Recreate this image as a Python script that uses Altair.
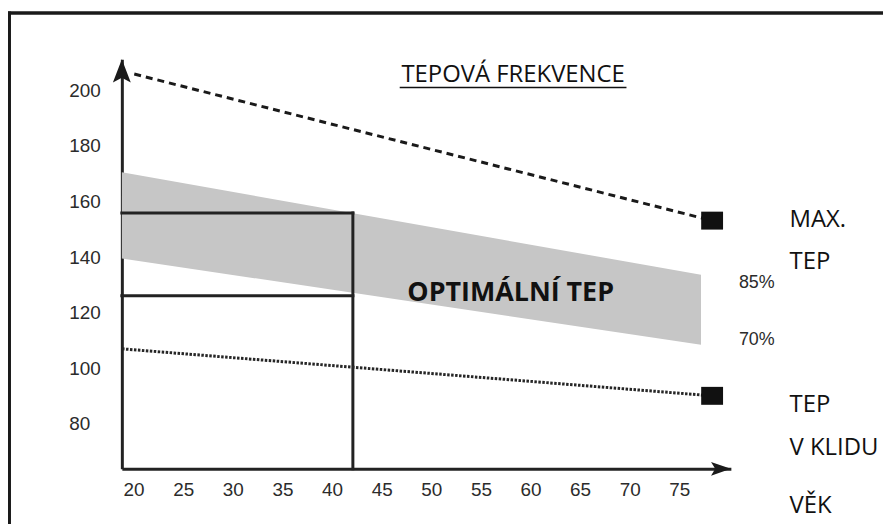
import altair as alt
import pandas as pd

# ---------------- data ----------------
# axis extent: age in years (x), heart rate in beats/min (y)
AGE_MIN, AGE_MAX = 18.82, 80.19
HR_MIN, HR_MAX = 63.85, 211.15
X_TICKS = [20, 25, 30, 35, 40, 45, 50, 55, 60, 65, 70, 75]
Y_TICKS = [80, 100, 120, 140, 160, 180, 200]

# optimal training-zone band: upper edge (85 %) and lower edge (70 %)
BAND_AGE = [18.82, 77.18]
BAND_85 = [170.5, 133.6]
BAND_70 = [139.5, 108.5]

# maximum heart rate (dashed line + end marker)
MAX_AGE = [20.07, 78.3]
MAX_HR = [205.8, 153.1]

# resting heart rate (dotted line + end marker)
REST_AGE = [18.84, 78.3]
REST_HR = [107.0, 90.1]

# example box for a 42-year-old
BOX_AGE = 42.1
BOX_TOP = 155.85
BOX_MID = 126.06

# labels
TITLE = "TEPOVÁ FREKVENCE"
ZONE_LABEL = "OPTIMÁLNÍ TEP"
PCT_LABELS = ["85%", "70%"]
PCT_HR = [130.8, 110.0]
SIDE_LABELS = ["MAX.", "TEP", "TEP", "V KLIDU", "VĚK"]
SIDE_HR = [153.2, 138.3, 86.7, 71.2, 50.3]
SIDE_AGE = 86.1
PCT_AGE = 81.0
TITLE_POS = (58.25, 205.3)
UNDERLINE = (46.82, 69.67, 200.97)
ZONE_POS = (58.0, 126.9)

# ---------------- scales / axes ----------------
xs = alt.Scale(domain=[AGE_MIN, AGE_MAX], nice=False, zero=False)
ys = alt.Scale(domain=[HR_MIN, HR_MAX], nice=False, zero=False)

xaxis = alt.Axis(values=X_TICKS, title=None, grid=False, ticks=False, tickSize=0,
                 domainColor="#222222", domainWidth=3,
                 labelFont="Liberation Sans", labelFontSize=19, labelColor="#2b2b2b",
                 labelPadding=21, labelBaseline="middle", labelFlush=False,
                 labelOverlap=False)
yaxis = alt.Axis(values=Y_TICKS, title=None, grid=False, ticks=False, tickSize=0,
                 domainColor="#222222", domainWidth=3,
                 labelFont="Liberation Sans", labelFontSize=19, labelColor="#2b2b2b",
                 labelPadding=53.5, labelAlign="left", labelBaseline="middle",
                 labelFlush=False, labelOverlap=False)


def X(f):
    return alt.X(f, type="quantitative", scale=xs, axis=xaxis)


def Y(f):
    return alt.Y(f, type="quantitative", scale=ys, axis=yaxis)


band_df = pd.DataFrame({"age": BAND_AGE, "hi": BAND_85, "lo": BAND_70})
max_df = pd.DataFrame({"age": MAX_AGE, "hr": MAX_HR})
rest_df = pd.DataFrame({"age": REST_AGE, "hr": REST_HR})
marker_df = pd.DataFrame({"age": [MAX_AGE[-1], REST_AGE[-1]], "hr": [MAX_HR[-1], REST_HR[-1]]})
box_df = pd.DataFrame({
    "a": [AGE_MIN, AGE_MIN, BOX_AGE],
    "a2": [BOX_AGE, BOX_AGE, BOX_AGE],
    "h": [BOX_TOP, BOX_MID, HR_MIN],
    "h2": [BOX_TOP, BOX_MID, BOX_TOP],
})
yarrow_df = pd.DataFrame({"age": [AGE_MIN], "hr": [HR_MAX]})
xarrow_df = pd.DataFrame({"age": [AGE_MAX], "hr": [HR_MIN]})

band = alt.Chart(band_df).mark_area(color="#c6c6c6").encode(
    x=X("age"), y=Y("hi"), y2=alt.Y2("lo"))

box = alt.Chart(box_df).mark_rule(color="#222222", strokeWidth=3, strokeCap="square").encode(
    x=X("a"), x2=alt.X2("a2"), y=Y("h"), y2=alt.Y2("h2"))

max_line = alt.Chart(max_df).mark_line(color="#1a1a1a", strokeWidth=3, strokeDash=[7, 5]).encode(
    x=X("age"), y=Y("hr"))

rest_line = alt.Chart(rest_df).mark_line(color="#262626", strokeWidth=3, strokeDash=[2.5, 1.5]).encode(
    x=X("age"), y=Y("hr"))

markers = alt.Chart(marker_df).mark_point(
    shape="M-1,-0.82 L1,-0.82 L1,0.82 L-1,0.82 Z", size=484, filled=True,
    color="#111111", opacity=1).encode(x=X("age"), y=Y("hr"))

yarrow = alt.Chart(yarrow_df).mark_point(
    shape="M0,0 L0.75,1.95 L0,1.55 L-0.75,1.95 Z", size=576, filled=True,
    color="#1a1a1a", opacity=1).encode(x=X("age"), y=Y("hr"))

xarrow = alt.Chart(xarrow_df).mark_point(
    shape="M0,0 L-1.9,-0.65 L-1.5,0 L-1.9,0.65 Z", size=441, filled=True,
    color="#1a1a1a", opacity=1).encode(x=X("age"), y=Y("hr"))

title_df = pd.DataFrame({"t": [TITLE], "age": [TITLE_POS[0]], "hr": [TITLE_POS[1]]})
title = alt.Chart(title_df).mark_text(font="Open Sans", fontSize=24, color="#111111",
                                      align="center", baseline="middle").encode(
    x=X("age"), y=Y("hr"), text="t:N")

ul_df = pd.DataFrame({"a": [UNDERLINE[0]], "a2": [UNDERLINE[1]], "h": [UNDERLINE[2]]})
underline = alt.Chart(ul_df).mark_rule(color="#111111", strokeWidth=1.6).encode(
    x=X("a"), x2=alt.X2("a2"), y=Y("h"))

zone_df = pd.DataFrame({"t": [ZONE_LABEL], "age": [ZONE_POS[0]], "hr": [ZONE_POS[1]]})
zone = alt.Chart(zone_df).mark_text(font="Open Sans", fontSize=27, fontWeight="bold",
                                    color="#111111", align="center", baseline="middle").encode(
    x=X("age"), y=Y("hr"), text="t:N")

pct_df = pd.DataFrame({"t": PCT_LABELS, "age": [PCT_AGE] * len(PCT_LABELS), "hr": PCT_HR})
pct = alt.Chart(pct_df).mark_text(font="Liberation Sans", fontSize=18, color="#2b2b2b",
                                  align="left", baseline="middle").encode(
    x=X("age"), y=Y("hr"), text="t:N")

side_df = pd.DataFrame({"t": SIDE_LABELS, "age": [SIDE_AGE] * len(SIDE_LABELS), "hr": SIDE_HR})
side = alt.Chart(side_df).mark_text(font="Open Sans", fontSize=24, color="#111111",
                                    align="left", baseline="middle").encode(
    x=X("age"), y=Y("hr"), text="t:N")

# outer frame of the picture (top and left border)
frame_top = alt.Chart(yarrow_df).mark_rule(color="#1a1a1a", strokeWidth=3.5).encode(
    x=alt.value(-114.5), x2=alt.value(770), y=alt.value(-46.5))
frame_left = alt.Chart(yarrow_df).mark_rule(color="#1a1a1a", strokeWidth=4).encode(
    x=alt.value(-113.5), y=alt.value(-48), y2=alt.value(470))

chart = alt.layer(
    band, frame_top, frame_left, box, max_line, rest_line, markers,
    yarrow, xarrow, title, underline, zone, pct, side
).properties(
    width=612.5, height=412,
    padding={"left": 114.5, "top": 50, "right": 153, "bottom": 54},
    autosize=alt.AutoSizeParams(type="none"),
    background="white",
).configure_view(strokeWidth=0)

chart.save("out.html", embed_options={"renderer": "svg", "actions": False})
